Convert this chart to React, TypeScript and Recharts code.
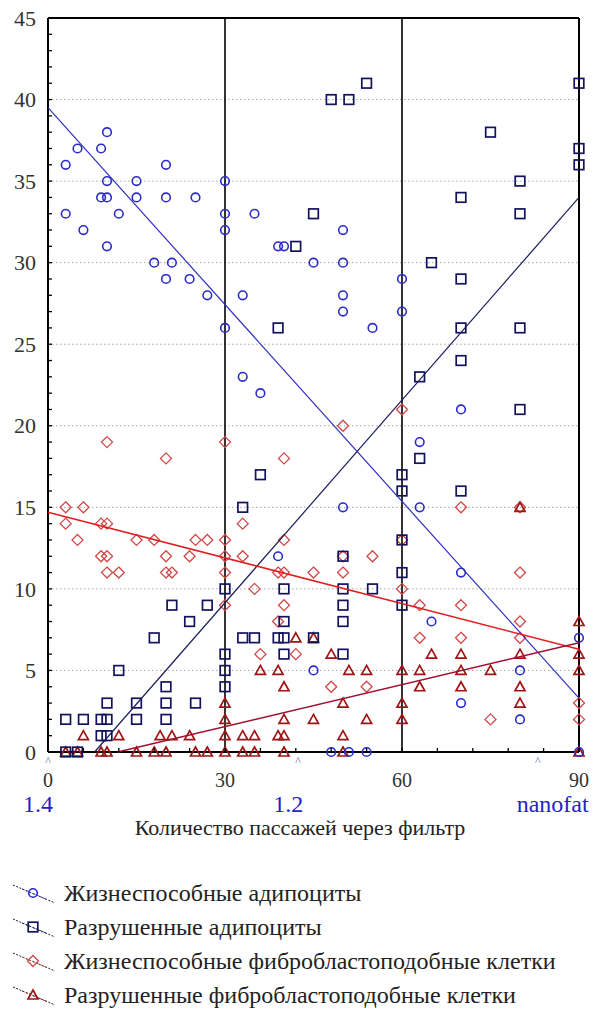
import { ScatterChart, Scatter, XAxis, YAxis, ReferenceLine, ReferenceDot } from "recharts";

// points: [passes, count]
const viableAdipocytes: [number, number][] = [
  [3, 36], [3, 33], [5, 37], [6, 32], [9, 37], [10, 38], [10, 35], [9, 34], [10, 34], [12, 33],
  [10, 31], [15, 35], [15, 34], [20, 36], [20, 34], [25, 34], [30, 35], [30, 33], [30, 32], [35, 33],
  [39, 31], [40, 31], [18, 30], [21, 30], [20, 29], [24, 29], [27, 28], [30, 26], [33, 28], [33, 23],
  [36, 22], [50, 32], [45, 30], [50, 30], [50, 28], [50, 27], [55, 26], [60, 29], [60, 27], [70, 21],
  [63, 19], [50, 15], [63, 15], [39, 12], [45, 5], [48, 0], [51, 0], [54, 0], [65, 8], [70, 11],
  [70, 3], [80, 5], [80, 2], [90, 7], [90, 0],
];

const destroyedAdipocytes: [number, number][] = [
  [42, 31], [54, 41], [48, 40], [51, 40], [45, 33], [75, 38], [70, 34], [80, 35], [80, 33], [90, 41],
  [90, 37], [90, 36], [65, 30], [70, 29], [70, 26], [80, 26], [70, 24], [63, 23], [80, 21], [63, 18],
  [60, 17], [60, 16], [70, 16], [39, 26], [36, 17], [33, 15],
  [3, 2], [6, 2], [9, 2], [10, 2], [9, 1], [10, 1], [10, 3], [12, 5], [15, 3], [15, 2],
  [20, 4], [20, 3], [20, 2], [18, 7], [21, 9], [24, 8], [27, 9], [25, 3], [30, 10], [30, 6],
  [30, 5], [30, 4], [33, 7], [35, 7], [40, 10], [40, 8], [39, 7], [40, 7], [40, 6],
  [60, 13], [50, 12], [50, 10], [55, 10], [60, 11], [60, 9], [50, 9], [50, 8], [50, 6], [45, 7],
  [3, 0], [5, 0],
];

const viableFibroblasts: [number, number][] = [
  [10, 19], [20, 18], [30, 19], [40, 18], [3, 15], [6, 15], [60, 21], [50, 20], [70, 15], [80, 15],
  [3, 14], [5, 13], [9, 14], [10, 14], [9, 12], [10, 12], [10, 11], [12, 11], [15, 13], [18, 13],
  [20, 12], [20, 11], [21, 11], [24, 12], [25, 13], [27, 13], [30, 13], [30, 12], [30, 11], [30, 9],
  [33, 14], [33, 12], [35, 10], [36, 6], [40, 13], [39, 11], [40, 11], [40, 9], [39, 8], [42, 6],
  [45, 11], [50, 12], [50, 11], [55, 12], [60, 13], [60, 10], [63, 9], [70, 9], [63, 7], [70, 7],
  [80, 11], [80, 8], [80, 7], [48, 4], [54, 4], [75, 2], [90, 3], [90, 2],
];

const destroyedFibroblasts: [number, number][] = [
  [6, 1], [12, 1], [19, 1], [21, 1], [24, 1], [30, 3], [30, 2], [30, 1], [33, 1], [35, 1],
  [39, 1], [40, 1], [40, 2], [40, 4], [36, 5], [39, 5], [42, 7],
  [15, 0], [18, 0], [20, 0], [25, 0], [27, 0], [30, 0], [33, 0], [35, 0], [40, 0], [3, 0], [5, 0], [9, 0], [10, 0],
  [45, 7], [48, 6], [51, 5], [54, 5], [60, 5], [63, 5], [65, 6], [70, 6], [70, 5], [75, 5],
  [80, 6], [70, 4], [80, 4], [80, 3], [50, 3], [60, 3], [63, 4], [45, 2], [54, 2], [60, 2],
  [50, 1], [90, 8], [90, 6], [90, 5], [50, 0], [90, 0], [80, 15],
];

// fitted lines, end points
const viableAdipocytesFit: [number, number][] = [[0, 39.5], [90, 3.3]];
const destroyedAdipocytesFit: [number, number][] = [[7.9, 0], [90, 34]];
const viableFibroblastsFit: [number, number][] = [[0, 14.7], [90, 6.3]];
const destroyedFibroblastsFit: [number, number][] = [[11.8, 0], [90, 6.7]];

const yTicks = [0, 1, 2, 3, 4, 5, 6, 7, 8, 9, 10, 11, 12, 13, 14, 15, 16, 17, 18, 19, 20, 21, 22, 23, 24, 25, 26, 27, 28, 29, 30, 31, 32, 33, 34, 35, 36, 37, 38, 39, 40, 41, 42, 43, 44, 45];
const yLabels = [0, 5, 10, 15, 20, 25, 30, 35, 40, 45];
const xTicks = [0, 6, 12, 18, 24, 30, 36, 42, 48, 54, 60, 66, 72, 78, 84, 90];
const xLabels = [0, 30, 60, 90];
const hGrid = [5, 10, 15, 20, 25, 30, 35, 40];
const vLines = [30, 60];
const markerTicks = [0, 42.4, 83];
const markerLabels = ["1.4", "1.2", "nanofat"];
const markerShift = [-10, -10, 15];

const xTitle = "Количество пассажей через фильтр";
const legendNames = [
  "Жизнеспособные адипоциты",
  "Разрушенные адипоциты",
  "Жизнеспособные фибробластоподобные клетки",
  "Разрушенные фибробластоподобные клетки",
];

const FONT =
  '"Times New Roman", Times, "Liberation Serif", "Nimbus Roman", "FreeSerif", "Noto Serif", "DejaVu Serif", serif';
const C_CIRCLE = "#2b2bcc";
const C_SQUARE = "#12125e";
const C_DIAMOND = "#d04848";
const C_TRIANGLE = "#a01414";

const pts = (a: [number, number][]) => a.map(([x, y]) => ({ x, y }));

const Circle = (p: any) => (
  <circle cx={p.cx} cy={p.cy} r={4.3} fill="none" stroke={C_CIRCLE} strokeWidth={1.6} />
);
const Square = (p: any) => (
  <rect x={p.cx - 4.8} y={p.cy - 4.8} width={9.6} height={9.6} fill="none" stroke={C_SQUARE} strokeWidth={1.7} />
);
const Diamond = (p: any) => (
  <path
    d={`M${p.cx},${p.cy - 5.5} L${p.cx + 5.5},${p.cy} L${p.cx},${p.cy + 5.5} L${p.cx - 5.5},${p.cy} Z`}
    fill="none"
    stroke={C_DIAMOND}
    strokeWidth={1.3}
  />
);
const Triangle = (p: any) => (
  <path
    d={`M${p.cx},${p.cy - 5} L${p.cx + 5},${p.cy + 4} L${p.cx - 5},${p.cy + 4} Z`}
    fill="none"
    stroke={C_TRIANGLE}
    strokeWidth={1.7}
  />
);
const NoShape = () => <g />;

const LeftTick = ({ x, y, payload }: any) => (
  <g>
    <line x1={x} x2={x + 4} y1={y} y2={y} stroke="#000" strokeWidth={1.3} />
    {yLabels.includes(payload.value) && (
      <text x={x - 12} y={y} dy="0.35em" textAnchor="end" fontSize={22} fill="#333" style={{ fontFamily: FONT }}>
        {payload.value}
      </text>
    )}
  </g>
);

const RightTick = ({ x, y }: any) => (
  <line x1={x} x2={x - 4} y1={y} y2={y} stroke="#000" strokeWidth={1.3} />
);

const TopTick = ({ x, y }: any) => (
  <line x1={x} x2={x} y1={y} y2={y + 4} stroke="#000" strokeWidth={1.3} />
);

const BottomTick = ({ x, y, payload }: any) => (
  <g>
    <line x1={x} x2={x} y1={y} y2={y - 4} stroke="#000" strokeWidth={1.3} />
    {xLabels.includes(payload.value) && (
      <text x={x} y={y + 28} dy="0.35em" textAnchor="middle" fontSize={20} fill="#333" style={{ fontFamily: FONT }}>
        {payload.value}
      </text>
    )}
  </g>
);

// caret and group label under the axis, placed at the axis position of each marker
const makeMarker = (i: number) => (p: any) => (
  <g>
    <text x={p.cx} y={p.cy + 9} dy="0.35em" textAnchor="middle" fontSize={12} fill="#6a6aa0" style={{ fontFamily: FONT }}>
      ^
    </text>
    <text
      x={p.cx + markerShift[i]}
      y={p.cy + 52}
      dy="0.35em"
      textAnchor="middle"
      fontSize={24}
      fill="#2323c8"
      style={{ fontFamily: FONT }}
    >
      {markerLabels[i]}
    </text>
  </g>
);

const legendShapes = [
  { color: C_CIRCLE, shape: "circle" },
  { color: C_SQUARE, shape: "square" },
  { color: C_DIAMOND, shape: "diamond" },
  { color: C_TRIANGLE, shape: "triangle" },
];

function LegendIcon({ color, shape }: { color: string; shape: string }) {
  const cx = 33;
  const cy = 17;
  return (
    <svg width={60} height={34} style={{ display: "block" }}>
      <line x1={13} y1={9} x2={55} y2={27} stroke="#222" strokeWidth={1} strokeDasharray="2 1.5" />
      <line x1={22} y1={13} x2={46} y2={23} stroke={color} strokeWidth={1} strokeDasharray="2 2" />
      {shape === "circle" && Circle({ cx, cy })}
      {shape === "square" && Square({ cx, cy })}
      {shape === "diamond" && Diamond({ cx, cy })}
      {shape === "triangle" && Triangle({ cx, cy })}
    </svg>
  );
}

export default function App() {
  const axisLine = { stroke: "#000", strokeWidth: 2 };
  return (
    <div style={{ position: "absolute", left: 0, top: 0, width: 600, height: 1010, background: "#fff", fontFamily: FONT }}>
      <ScatterChart width={600} height={840} margin={{ top: 0, right: 0, bottom: 58, left: 0 }}>
        <XAxis
          xAxisId="b"
          dataKey="x"
          type="number"
          domain={[0, 90]}
          ticks={xTicks}
          interval={0}
          height={30}
          axisLine={axisLine}
          tickLine={false}
          tickSize={0}
          tickMargin={0}
          tick={BottomTick}
        />
        <XAxis
          xAxisId="t"
          orientation="top"
          dataKey="x"
          type="number"
          domain={[0, 90]}
          ticks={xTicks}
          interval={0}
          height={18}
          axisLine={axisLine}
          tickLine={false}
          tickSize={0}
          tickMargin={0}
          tick={TopTick}
        />
        <YAxis
          yAxisId="l"
          dataKey="y"
          type="number"
          domain={[0, 45]}
          ticks={yTicks}
          interval={0}
          width={48}
          axisLine={axisLine}
          tickLine={false}
          tickSize={0}
          tickMargin={0}
          tick={LeftTick}
        />
        <YAxis
          yAxisId="r"
          orientation="right"
          dataKey="y"
          type="number"
          domain={[0, 45]}
          ticks={yTicks}
          interval={0}
          width={21}
          axisLine={axisLine}
          tickLine={false}
          tickSize={0}
          tickMargin={0}
          tick={RightTick}
        />
        {hGrid.map((v) => (
          <ReferenceLine key={"h" + v} xAxisId="b" yAxisId="l" y={v} stroke="#a8a8a8" strokeWidth={1} strokeDasharray="1.5 2.5" />
        ))}
        {vLines.map((v) => (
          <ReferenceLine key={"v" + v} xAxisId="b" yAxisId="l" x={v} stroke="#000" strokeWidth={1.6} />
        ))}
        <Scatter xAxisId="b" yAxisId="l" data={pts(viableFibroblasts)} shape={Diamond} isAnimationActive={false} />
        <Scatter xAxisId="b" yAxisId="l" data={pts(destroyedFibroblasts)} shape={Triangle} isAnimationActive={false} />
        <Scatter xAxisId="b" yAxisId="l" data={pts(viableAdipocytes)} shape={Circle} isAnimationActive={false} />
        <Scatter xAxisId="b" yAxisId="l" data={pts(destroyedAdipocytes)} shape={Square} isAnimationActive={false} />
        <Scatter xAxisId="b" yAxisId="l" data={pts(viableAdipocytesFit)} shape={NoShape} line={{ stroke: "#3030c0", strokeWidth: 1.2 }} isAnimationActive={false} />
        <Scatter xAxisId="b" yAxisId="l" data={pts(destroyedAdipocytesFit)} shape={NoShape} line={{ stroke: "#1c1c5c", strokeWidth: 1.2 }} isAnimationActive={false} />
        <Scatter xAxisId="b" yAxisId="l" data={pts(viableFibroblastsFit)} shape={NoShape} line={{ stroke: "#e02020", strokeWidth: 1.5 }} isAnimationActive={false} />
        <Scatter xAxisId="b" yAxisId="l" data={pts(destroyedFibroblastsFit)} shape={NoShape} line={{ stroke: "#a01030", strokeWidth: 1.5 }} isAnimationActive={false} />
        {markerTicks.map((v, i) => (
          <ReferenceDot key={"m" + i} xAxisId="b" yAxisId="l" x={v} y={0} ifOverflow="visible" shape={makeMarker(i)} />
        ))}
      </ScatterChart>
      <div style={{ position: "absolute", left: 0, top: 815, width: 600, textAlign: "center", fontSize: 22, lineHeight: "26px", color: "#222" }}>
        {xTitle}
      </div>
      <div style={{ position: "absolute", left: 0, top: 876 }}>
        {legendNames.map((name, i) => (
          <div key={name} style={{ display: "flex", alignItems: "center", height: 34 }}>
            <LegendIcon color={legendShapes[i].color} shape={legendShapes[i].shape} />
            <span style={{ marginLeft: 4, fontSize: 24, color: "#222", whiteSpace: "nowrap" }}>{name}</span>
          </div>
        ))}
      </div>
    </div>
  );
}
